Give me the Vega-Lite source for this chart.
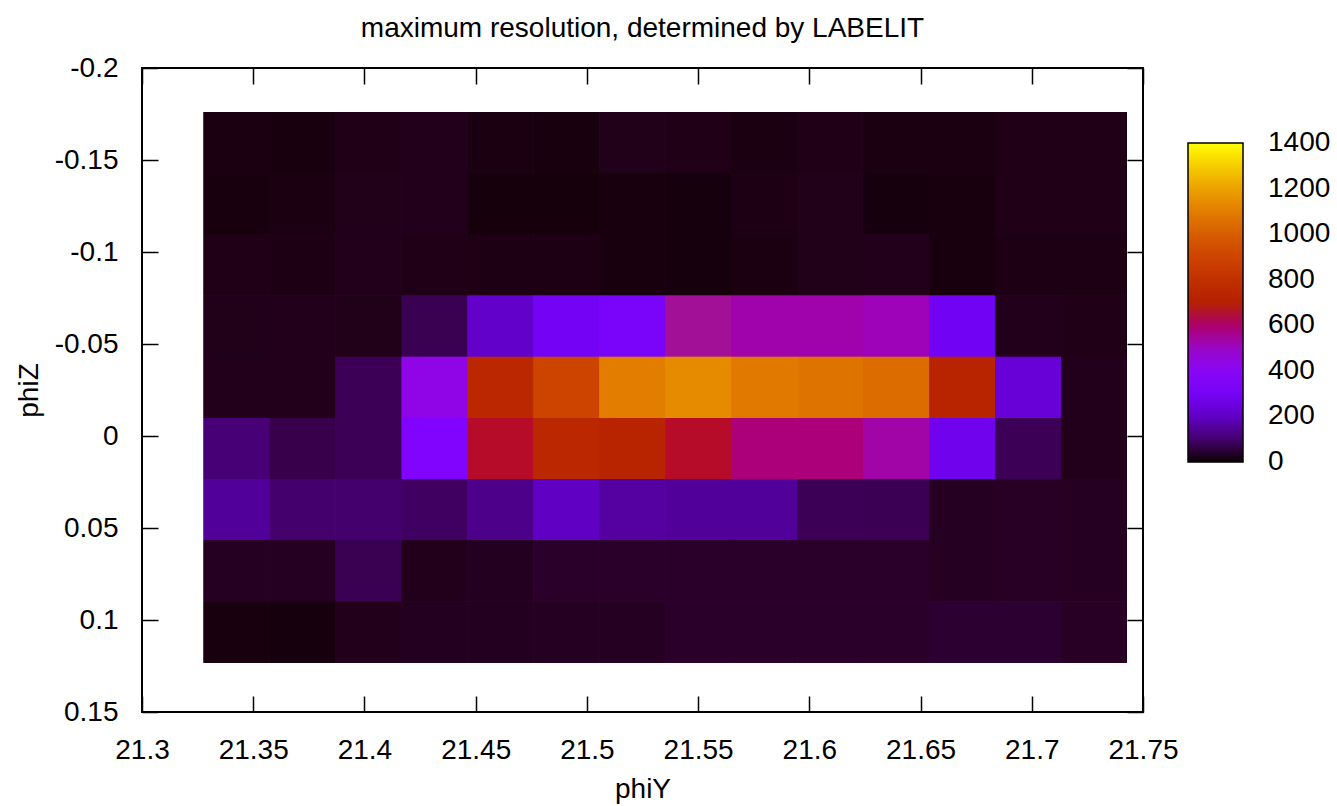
{
  "$schema": "https://vega.github.io/schema/vega-lite/v6.json",
  "width": 1001,
  "height": 644,
  "autosize": {"type": "none"},
  "padding": {"left": 142, "top": 68, "right": 194, "bottom": 94},
  "background": "white",
  "config": {
    "view": {"stroke": "black", "strokeWidth": 2},
    "font": "Liberation Sans"
  },
  "title": {
    "text": "maximum resolution, determined by LABELIT",
    "fontSize": 28,
    "font": "Liberation Sans",
    "fontWeight": "normal",
    "color": "black",
    "offset": -17,
    "baseline": "bottom",
    "frame": "group",
    "anchor": "middle"
  },
  "datasets": {
    "cells": [
      {"phiY0": 21.3277, "phiY1": 21.3574, "phiZ0": -0.1761, "phiZ1": -0.1428, "n": 15},
      {"phiY0": 21.3574, "phiY1": 21.387, "phiZ0": -0.1761, "phiZ1": -0.1428, "n": 12},
      {"phiY0": 21.387, "phiY1": 21.4167, "phiZ0": -0.1761, "phiZ1": -0.1428, "n": 20},
      {"phiY0": 21.4167, "phiY1": 21.4463, "phiZ0": -0.1761, "phiZ1": -0.1428, "n": 24},
      {"phiY0": 21.4463, "phiY1": 21.476, "phiZ0": -0.1761, "phiZ1": -0.1428, "n": 15},
      {"phiY0": 21.476, "phiY1": 21.5056, "phiZ0": -0.1761, "phiZ1": -0.1428, "n": 12},
      {"phiY0": 21.5056, "phiY1": 21.5353, "phiZ0": -0.1761, "phiZ1": -0.1428, "n": 22},
      {"phiY0": 21.5353, "phiY1": 21.5649, "phiZ0": -0.1761, "phiZ1": -0.1428, "n": 19},
      {"phiY0": 21.5649, "phiY1": 21.5946, "phiZ0": -0.1761, "phiZ1": -0.1428, "n": 14},
      {"phiY0": 21.5946, "phiY1": 21.6242, "phiZ0": -0.1761, "phiZ1": -0.1428, "n": 19},
      {"phiY0": 21.6242, "phiY1": 21.6539, "phiZ0": -0.1761, "phiZ1": -0.1428, "n": 14},
      {"phiY0": 21.6539, "phiY1": 21.6835, "phiZ0": -0.1761, "phiZ1": -0.1428, "n": 14},
      {"phiY0": 21.6835, "phiY1": 21.7132, "phiZ0": -0.1761, "phiZ1": -0.1428, "n": 19},
      {"phiY0": 21.7132, "phiY1": 21.7428, "phiZ0": -0.1761, "phiZ1": -0.1428, "n": 19},

      {"phiY0": 21.3277, "phiY1": 21.3574, "phiZ0": -0.1428, "phiZ1": -0.1096, "n": 12},
      {"phiY0": 21.3574, "phiY1": 21.387, "phiZ0": -0.1428, "phiZ1": -0.1096, "n": 14},
      {"phiY0": 21.387, "phiY1": 21.4167, "phiZ0": -0.1428, "phiZ1": -0.1096, "n": 22},
      {"phiY0": 21.4167, "phiY1": 21.4463, "phiZ0": -0.1428, "phiZ1": -0.1096, "n": 25},
      {"phiY0": 21.4463, "phiY1": 21.476, "phiZ0": -0.1428, "phiZ1": -0.1096, "n": 10},
      {"phiY0": 21.476, "phiY1": 21.5056, "phiZ0": -0.1428, "phiZ1": -0.1096, "n": 10},
      {"phiY0": 21.5056, "phiY1": 21.5353, "phiZ0": -0.1428, "phiZ1": -0.1096, "n": 12},
      {"phiY0": 21.5353, "phiY1": 21.5649, "phiZ0": -0.1428, "phiZ1": -0.1096, "n": 11},
      {"phiY0": 21.5649, "phiY1": 21.5946, "phiZ0": -0.1428, "phiZ1": -0.1096, "n": 17},
      {"phiY0": 21.5946, "phiY1": 21.6242, "phiZ0": -0.1428, "phiZ1": -0.1096, "n": 22},
      {"phiY0": 21.6242, "phiY1": 21.6539, "phiZ0": -0.1428, "phiZ1": -0.1096, "n": 11},
      {"phiY0": 21.6539, "phiY1": 21.6835, "phiZ0": -0.1428, "phiZ1": -0.1096, "n": 12},
      {"phiY0": 21.6835, "phiY1": 21.7132, "phiZ0": -0.1428, "phiZ1": -0.1096, "n": 19},
      {"phiY0": 21.7132, "phiY1": 21.7428, "phiZ0": -0.1428, "phiZ1": -0.1096, "n": 19},

      {"phiY0": 21.3277, "phiY1": 21.3574, "phiZ0": -0.1096, "phiZ1": -0.0763, "n": 19},
      {"phiY0": 21.3574, "phiY1": 21.387, "phiZ0": -0.1096, "phiZ1": -0.0763, "n": 17},
      {"phiY0": 21.387, "phiY1": 21.4167, "phiZ0": -0.1096, "phiZ1": -0.0763, "n": 25},
      {"phiY0": 21.4167, "phiY1": 21.4463, "phiZ0": -0.1096, "phiZ1": -0.0763, "n": 19},
      {"phiY0": 21.4463, "phiY1": 21.476, "phiZ0": -0.1096, "phiZ1": -0.0763, "n": 17},
      {"phiY0": 21.476, "phiY1": 21.5056, "phiZ0": -0.1096, "phiZ1": -0.0763, "n": 17},
      {"phiY0": 21.5056, "phiY1": 21.5353, "phiZ0": -0.1096, "phiZ1": -0.0763, "n": 13},
      {"phiY0": 21.5353, "phiY1": 21.5649, "phiZ0": -0.1096, "phiZ1": -0.0763, "n": 11},
      {"phiY0": 21.5649, "phiY1": 21.5946, "phiZ0": -0.1096, "phiZ1": -0.0763, "n": 14},
      {"phiY0": 21.5946, "phiY1": 21.6242, "phiZ0": -0.1096, "phiZ1": -0.0763, "n": 22},
      {"phiY0": 21.6242, "phiY1": 21.6539, "phiZ0": -0.1096, "phiZ1": -0.0763, "n": 25},
      {"phiY0": 21.6539, "phiY1": 21.6835, "phiZ0": -0.1096, "phiZ1": -0.0763, "n": 12},
      {"phiY0": 21.6835, "phiY1": 21.7132, "phiZ0": -0.1096, "phiZ1": -0.0763, "n": 17},
      {"phiY0": 21.7132, "phiY1": 21.7428, "phiZ0": -0.1096, "phiZ1": -0.0763, "n": 17},

      {"phiY0": 21.3277, "phiY1": 21.3574, "phiZ0": -0.0763, "phiZ1": -0.0431, "n": 22},
      {"phiY0": 21.3574, "phiY1": 21.387, "phiZ0": -0.0763, "phiZ1": -0.0431, "n": 25},
      {"phiY0": 21.387, "phiY1": 21.4167, "phiZ0": -0.0763, "phiZ1": -0.0431, "n": 22},
      {"phiY0": 21.4167, "phiY1": 21.4463, "phiZ0": -0.0763, "phiZ1": -0.0431, "n": 72},
      {"phiY0": 21.4463, "phiY1": 21.476, "phiZ0": -0.0763, "phiZ1": -0.0431, "n": 205},
      {"phiY0": 21.476, "phiY1": 21.5056, "phiZ0": -0.0763, "phiZ1": -0.0431, "n": 290},
      {"phiY0": 21.5056, "phiY1": 21.5353, "phiZ0": -0.0763, "phiZ1": -0.0431, "n": 320},
      {"phiY0": 21.5353, "phiY1": 21.5649, "phiZ0": -0.0763, "phiZ1": -0.0431, "n": 560},
      {"phiY0": 21.5649, "phiY1": 21.5946, "phiZ0": -0.0763, "phiZ1": -0.0431, "n": 530},
      {"phiY0": 21.5946, "phiY1": 21.6242, "phiZ0": -0.0763, "phiZ1": -0.0431, "n": 530},
      {"phiY0": 21.6242, "phiY1": 21.6539, "phiZ0": -0.0763, "phiZ1": -0.0431, "n": 515},
      {"phiY0": 21.6539, "phiY1": 21.6835, "phiZ0": -0.0763, "phiZ1": -0.0431, "n": 280},
      {"phiY0": 21.6835, "phiY1": 21.7132, "phiZ0": -0.0763, "phiZ1": -0.0431, "n": 25},
      {"phiY0": 21.7132, "phiY1": 21.7428, "phiZ0": -0.0763, "phiZ1": -0.0431, "n": 19},

      {"phiY0": 21.3277, "phiY1": 21.3574, "phiZ0": -0.0431, "phiZ1": -0.0098, "n": 25},
      {"phiY0": 21.3574, "phiY1": 21.387, "phiZ0": -0.0431, "phiZ1": -0.0098, "n": 25},
      {"phiY0": 21.387, "phiY1": 21.4167, "phiZ0": -0.0431, "phiZ1": -0.0098, "n": 77},
      {"phiY0": 21.4167, "phiY1": 21.4463, "phiZ0": -0.0431, "phiZ1": -0.0098, "n": 440},
      {"phiY0": 21.4463, "phiY1": 21.476, "phiZ0": -0.0431, "phiZ1": -0.0098, "n": 758},
      {"phiY0": 21.476, "phiY1": 21.5056, "phiZ0": -0.0431, "phiZ1": -0.0098, "n": 900},
      {"phiY0": 21.5056, "phiY1": 21.5353, "phiZ0": -0.0431, "phiZ1": -0.0098, "n": 1100},
      {"phiY0": 21.5353, "phiY1": 21.5649, "phiZ0": -0.0431, "phiZ1": -0.0098, "n": 1140},
      {"phiY0": 21.5649, "phiY1": 21.5946, "phiZ0": -0.0431, "phiZ1": -0.0098, "n": 1090},
      {"phiY0": 21.5946, "phiY1": 21.6242, "phiZ0": -0.0431, "phiZ1": -0.0098, "n": 1070},
      {"phiY0": 21.6242, "phiY1": 21.6539, "phiZ0": -0.0431, "phiZ1": -0.0098, "n": 1045},
      {"phiY0": 21.6539, "phiY1": 21.6835, "phiZ0": -0.0431, "phiZ1": -0.0098, "n": 730},
      {"phiY0": 21.6835, "phiY1": 21.7132, "phiZ0": -0.0431, "phiZ1": -0.0098, "n": 228},
      {"phiY0": 21.7132, "phiY1": 21.7428, "phiZ0": -0.0431, "phiZ1": -0.0098, "n": 25},

      {"phiY0": 21.3277, "phiY1": 21.3574, "phiZ0": -0.0098, "phiZ1": 0.0234, "n": 107},
      {"phiY0": 21.3574, "phiY1": 21.387, "phiZ0": -0.0098, "phiZ1": 0.0234, "n": 67},
      {"phiY0": 21.387, "phiY1": 21.4167, "phiZ0": -0.0098, "phiZ1": 0.0234, "n": 77},
      {"phiY0": 21.4167, "phiY1": 21.4463, "phiZ0": -0.0098, "phiZ1": 0.0234, "n": 350},
      {"phiY0": 21.4463, "phiY1": 21.476, "phiZ0": -0.0098, "phiZ1": 0.0234, "n": 672},
      {"phiY0": 21.476, "phiY1": 21.5056, "phiZ0": -0.0098, "phiZ1": 0.0234, "n": 758},
      {"phiY0": 21.5056, "phiY1": 21.5353, "phiZ0": -0.0098, "phiZ1": 0.0234, "n": 730},
      {"phiY0": 21.5353, "phiY1": 21.5649, "phiZ0": -0.0098, "phiZ1": 0.0234, "n": 672},
      {"phiY0": 21.5649, "phiY1": 21.5946, "phiZ0": -0.0098, "phiZ1": 0.0234, "n": 585},
      {"phiY0": 21.5946, "phiY1": 21.6242, "phiZ0": -0.0098, "phiZ1": 0.0234, "n": 585},
      {"phiY0": 21.6242, "phiY1": 21.6539, "phiZ0": -0.0098, "phiZ1": 0.0234, "n": 535},
      {"phiY0": 21.6539, "phiY1": 21.6835, "phiZ0": -0.0098, "phiZ1": 0.0234, "n": 270},
      {"phiY0": 21.6835, "phiY1": 21.7132, "phiZ0": -0.0098, "phiZ1": 0.0234, "n": 77},
      {"phiY0": 21.7132, "phiY1": 21.7428, "phiZ0": -0.0098, "phiZ1": 0.0234, "n": 25},

      {"phiY0": 21.3277, "phiY1": 21.3574, "phiZ0": 0.0234, "phiZ1": 0.0567, "n": 145},
      {"phiY0": 21.3574, "phiY1": 21.387, "phiZ0": 0.0234, "phiZ1": 0.0567, "n": 98},
      {"phiY0": 21.387, "phiY1": 21.4167, "phiZ0": 0.0234, "phiZ1": 0.0567, "n": 98},
      {"phiY0": 21.4167, "phiY1": 21.4463, "phiZ0": 0.0234, "phiZ1": 0.0567, "n": 88},
      {"phiY0": 21.4463, "phiY1": 21.476, "phiZ0": 0.0234, "phiZ1": 0.0567, "n": 127},
      {"phiY0": 21.476, "phiY1": 21.5056, "phiZ0": 0.0234, "phiZ1": 0.0567, "n": 197},
      {"phiY0": 21.5056, "phiY1": 21.5353, "phiZ0": 0.0234, "phiZ1": 0.0567, "n": 154},
      {"phiY0": 21.5353, "phiY1": 21.5649, "phiZ0": 0.0234, "phiZ1": 0.0567, "n": 145},
      {"phiY0": 21.5649, "phiY1": 21.5946, "phiZ0": 0.0234, "phiZ1": 0.0567, "n": 145},
      {"phiY0": 21.5946, "phiY1": 21.6242, "phiZ0": 0.0234, "phiZ1": 0.0567, "n": 77},
      {"phiY0": 21.6242, "phiY1": 21.6539, "phiZ0": 0.0234, "phiZ1": 0.0567, "n": 74},
      {"phiY0": 21.6539, "phiY1": 21.6835, "phiZ0": 0.0234, "phiZ1": 0.0567, "n": 31},
      {"phiY0": 21.6835, "phiY1": 21.7132, "phiZ0": 0.0234, "phiZ1": 0.0567, "n": 34},
      {"phiY0": 21.7132, "phiY1": 21.7428, "phiZ0": 0.0234, "phiZ1": 0.0567, "n": 31},

      {"phiY0": 21.3277, "phiY1": 21.3574, "phiZ0": 0.0567, "phiZ1": 0.0899, "n": 31},
      {"phiY0": 21.3574, "phiY1": 21.387, "phiZ0": 0.0567, "phiZ1": 0.0899, "n": 31},
      {"phiY0": 21.387, "phiY1": 21.4167, "phiZ0": 0.0567, "phiZ1": 0.0899, "n": 72},
      {"phiY0": 21.4167, "phiY1": 21.4463, "phiZ0": 0.0567, "phiZ1": 0.0899, "n": 25},
      {"phiY0": 21.4463, "phiY1": 21.476, "phiZ0": 0.0567, "phiZ1": 0.0899, "n": 28},
      {"phiY0": 21.476, "phiY1": 21.5056, "phiZ0": 0.0567, "phiZ1": 0.0899, "n": 38},
      {"phiY0": 21.5056, "phiY1": 21.5353, "phiZ0": 0.0567, "phiZ1": 0.0899, "n": 38},
      {"phiY0": 21.5353, "phiY1": 21.5649, "phiZ0": 0.0567, "phiZ1": 0.0899, "n": 38},
      {"phiY0": 21.5649, "phiY1": 21.5946, "phiZ0": 0.0567, "phiZ1": 0.0899, "n": 38},
      {"phiY0": 21.5946, "phiY1": 21.6242, "phiZ0": 0.0567, "phiZ1": 0.0899, "n": 38},
      {"phiY0": 21.6242, "phiY1": 21.6539, "phiZ0": 0.0567, "phiZ1": 0.0899, "n": 38},
      {"phiY0": 21.6539, "phiY1": 21.6835, "phiZ0": 0.0567, "phiZ1": 0.0899, "n": 31},
      {"phiY0": 21.6835, "phiY1": 21.7132, "phiZ0": 0.0567, "phiZ1": 0.0899, "n": 34},
      {"phiY0": 21.7132, "phiY1": 21.7428, "phiZ0": 0.0567, "phiZ1": 0.0899, "n": 31},

      {"phiY0": 21.3277, "phiY1": 21.3574, "phiZ0": 0.0899, "phiZ1": 0.1232, "n": 12},
      {"phiY0": 21.3574, "phiY1": 21.387, "phiZ0": 0.0899, "phiZ1": 0.1232, "n": 11},
      {"phiY0": 21.387, "phiY1": 21.4167, "phiZ0": 0.0899, "phiZ1": 0.1232, "n": 25},
      {"phiY0": 21.4167, "phiY1": 21.4463, "phiZ0": 0.0899, "phiZ1": 0.1232, "n": 28},
      {"phiY0": 21.4463, "phiY1": 21.476, "phiZ0": 0.0899, "phiZ1": 0.1232, "n": 28},
      {"phiY0": 21.476, "phiY1": 21.5056, "phiZ0": 0.0899, "phiZ1": 0.1232, "n": 30},
      {"phiY0": 21.5056, "phiY1": 21.5353, "phiZ0": 0.0899, "phiZ1": 0.1232, "n": 31},
      {"phiY0": 21.5353, "phiY1": 21.5649, "phiZ0": 0.0899, "phiZ1": 0.1232, "n": 38},
      {"phiY0": 21.5649, "phiY1": 21.5946, "phiZ0": 0.0899, "phiZ1": 0.1232, "n": 38},
      {"phiY0": 21.5946, "phiY1": 21.6242, "phiZ0": 0.0899, "phiZ1": 0.1232, "n": 38},
      {"phiY0": 21.6242, "phiY1": 21.6539, "phiZ0": 0.0899, "phiZ1": 0.1232, "n": 38},
      {"phiY0": 21.6539, "phiY1": 21.6835, "phiZ0": 0.0899, "phiZ1": 0.1232, "n": 42},
      {"phiY0": 21.6835, "phiY1": 21.7132, "phiZ0": 0.0899, "phiZ1": 0.1232, "n": 42},
      {"phiY0": 21.7132, "phiY1": 21.7428, "phiZ0": 0.0899, "phiZ1": 0.1232, "n": 34}
    ]
  },
  "data": {"name": "cells"},
  "layer": [
    {
      "mark": {"type": "rect", "strokeWidth": 0},
      "encoding": {
        "x": {
          "field": "phiY0",
          "type": "quantitative",
          "title": "phiY",
          "scale": {"domain": [21.3, 21.75], "nice": false, "zero": false},
          "axis": {
            "orient": "bottom",
            "values": [21.3, 21.35, 21.4, 21.45, 21.5, 21.55, 21.6, 21.65, 21.7, 21.75],
            "labelExpr": "toString(datum.value)",
            "labelFont": "Liberation Sans",
            "labelFontSize": 28,
            "labelColor": "black",
            "labelPadding": 40,
            "labelFlush": false,
            "labelOverlap": false,
            "labelBound": false,
            "tickSize": -16,
            "tickWidth": 1.5,
            "tickColor": "black",
            "domain": false,
            "grid": false,
            "titleFont": "Liberation Sans",
            "titleFontSize": 28,
            "titleFontWeight": "normal",
            "titleColor": "black",
            "titlePadding": 11
          }
        },
        "x2": {"field": "phiY1"},
        "y": {
          "field": "phiZ0",
          "type": "quantitative",
          "title": "phiZ",
          "scale": {"domain": [-0.2, 0.15], "nice": false, "zero": false, "reverse": true},
          "axis": {
            "orient": "left",
            "values": [-0.2, -0.15, -0.1, -0.05, 0, 0.05, 0.1, 0.15],
            "labelExpr": "toString(datum.value)",
            "labelFont": "Liberation Sans",
            "labelFontSize": 28,
            "labelColor": "black",
            "labelPadding": 40,
            "labelFlush": false,
            "labelOverlap": false,
            "labelBound": false,
            "tickSize": -16,
            "tickWidth": 1.5,
            "tickColor": "black",
            "domain": false,
            "grid": false,
            "titleFont": "Liberation Sans",
            "titleFontSize": 28,
            "titleFontWeight": "normal",
            "titleColor": "black",
            "titlePadding": 11
          }
        },
        "y2": {"field": "phiZ1"},
        "color": {
          "field": "n",
          "type": "quantitative",
          "scale": {
            "type": "linear",
            "domain": [0, 7, 14, 28, 42, 56, 70, 105, 140, 210, 280, 350, 420, 490, 560, 630, 700, 770, 840, 910, 980, 1050, 1120, 1190, 1260, 1330, 1400],
            "range": ["#000000", "#120008", "#1a0010", "#240020", "#2c0030", "#33003f", "#39004f", "#460074", "#510096", "#6301ce", "#7202f3", "#8004ff", "#8c07f3", "#970bce", "#a11096", "#ab174f", "#b42000", "#bd2a00", "#c63700", "#ce4600", "#d55700", "#dd6c00", "#e48300", "#eb9d00", "#f2ba00", "#f9db00", "#ffff00"],
            "clamp": true
          },
          "legend": {
            "orient": "none",
            "legendX": 1046,
            "legendY": 75,
            "direction": "vertical",
            "type": "gradient",
            "title": null,
            "padding": 0,
            "format": "d",
            "gradientLength": 319,
            "gradientThickness": 55,
            "gradientStrokeColor": "black",
            "gradientStrokeWidth": 1.5,
            "values": [0, 200, 400, 600, 800, 1000, 1200, 1400],
            "labelFont": "Liberation Sans",
            "labelFontSize": 28,
            "labelColor": "black",
            "labelOffset": 25,
            "labelOverlap": false,
            "encode": {
              "labels": {"update": {"baseline": {"value": "middle"}}}
            }
          }
        }
      }
    },
    {
      "mark": {"type": "rect", "strokeWidth": 0},
      "encoding": {
        "x": {
          "field": "phiY0",
          "type": "quantitative",
          "scale": {"domain": [21.3, 21.75], "nice": false, "zero": false},
          "axis": null
        },
        "x2": {"field": "phiY1"},
        "y": {
          "field": "phiZ0",
          "type": "quantitative",
          "scale": {"domain": [-0.2, 0.15], "nice": false, "zero": false, "reverse": true},
          "axis": null
        },
        "y2": {"field": "phiZ1"},
        "color": {
          "field": "n",
          "type": "quantitative",
          "scale": {
            "type": "linear",
            "domain": [0, 7, 14, 28, 42, 56, 70, 105, 140, 210, 280, 350, 420, 490, 560, 630, 700, 770, 840, 910, 980, 1050, 1120, 1190, 1260, 1330, 1400],
            "range": ["#000000", "#120008", "#1a0010", "#240020", "#2c0030", "#33003f", "#39004f", "#460074", "#510096", "#6301ce", "#7202f3", "#8004ff", "#8c07f3", "#970bce", "#a11096", "#ab174f", "#b42000", "#bd2a00", "#c63700", "#ce4600", "#d55700", "#dd6c00", "#e48300", "#eb9d00", "#f2ba00", "#f9db00", "#ffff00"],
            "clamp": true
          },
          "legend": {
            "orient": "none",
            "legendX": 1046,
            "legendY": 75,
            "direction": "vertical",
            "type": "gradient",
            "title": null,
            "padding": 0,
            "format": "d",
            "gradientLength": 319,
            "gradientThickness": 55,
            "gradientStrokeColor": "black",
            "gradientStrokeWidth": 1.5,
            "values": [0, 200, 400, 600, 800, 1000, 1200, 1400],
            "labelFont": "Liberation Sans",
            "labelFontSize": 28,
            "labelColor": "black",
            "labelOffset": 25,
            "labelOverlap": false,
            "encode": {
              "labels": {"update": {"baseline": {"value": "middle"}}}
            }
          }
        }
      }
    },
    {
      "mark": {"type": "rect", "strokeWidth": 0},
      "encoding": {
        "x": {
          "field": "phiY0",
          "type": "quantitative",
          "scale": {"domain": [21.3, 21.75], "nice": false, "zero": false},
          "axis": null
        },
        "x2": {"field": "phiY1"},
        "y": {
          "field": "phiZ0",
          "type": "quantitative",
          "scale": {"domain": [-0.2, 0.15], "nice": false, "zero": false, "reverse": true},
          "axis": null
        },
        "y2": {"field": "phiZ1"},
        "color": {
          "field": "n",
          "type": "quantitative",
          "scale": {
            "type": "linear",
            "domain": [0, 7, 14, 28, 42, 56, 70, 105, 140, 210, 280, 350, 420, 490, 560, 630, 700, 770, 840, 910, 980, 1050, 1120, 1190, 1260, 1330, 1400],
            "range": ["#000000", "#120008", "#1a0010", "#240020", "#2c0030", "#33003f", "#39004f", "#460074", "#510096", "#6301ce", "#7202f3", "#8004ff", "#8c07f3", "#970bce", "#a11096", "#ab174f", "#b42000", "#bd2a00", "#c63700", "#ce4600", "#d55700", "#dd6c00", "#e48300", "#eb9d00", "#f2ba00", "#f9db00", "#ffff00"],
            "clamp": true
          },
          "legend": {
            "orient": "none",
            "legendX": 1046,
            "legendY": 75,
            "direction": "vertical",
            "type": "gradient",
            "title": null,
            "padding": 0,
            "format": "d",
            "gradientLength": 319,
            "gradientThickness": 55,
            "gradientStrokeColor": "black",
            "gradientStrokeWidth": 1.5,
            "values": [0, 200, 400, 600, 800, 1000, 1200, 1400],
            "labelFont": "Liberation Sans",
            "labelFontSize": 28,
            "labelColor": "black",
            "labelOffset": 25,
            "labelOverlap": false,
            "encode": {
              "labels": {"update": {"baseline": {"value": "middle"}}}
            }
          }
        }
      }
    },
    {
      "mark": {"type": "rect", "opacity": 0},
      "encoding": {
        "x": {
          "field": "phiY0",
          "type": "quantitative",
          "scale": {"domain": [21.3, 21.75], "nice": false, "zero": false},
          "axis": {
            "orient": "top",
            "values": [21.3, 21.35, 21.4, 21.45, 21.5, 21.55, 21.6, 21.65, 21.7, 21.75],
            "labels": false,
            "tickSize": -16,
            "tickWidth": 1.5,
            "tickColor": "black",
            "domain": false,
            "grid": false,
            "title": null
          }
        },
        "x2": {"field": "phiY1"},
        "y": {
          "field": "phiZ0",
          "type": "quantitative",
          "scale": {"domain": [-0.2, 0.15], "nice": false, "zero": false, "reverse": true},
          "axis": {
            "orient": "right",
            "values": [-0.2, -0.15, -0.1, -0.05, 0, 0.05, 0.1, 0.15],
            "labels": false,
            "tickSize": -16,
            "tickWidth": 1.5,
            "tickColor": "black",
            "domain": false,
            "grid": false,
            "title": null
          }
        },
        "y2": {"field": "phiZ1"}
      }
    }
  ],
  "resolve": {"axis": {"x": "independent", "y": "independent"}}
}
